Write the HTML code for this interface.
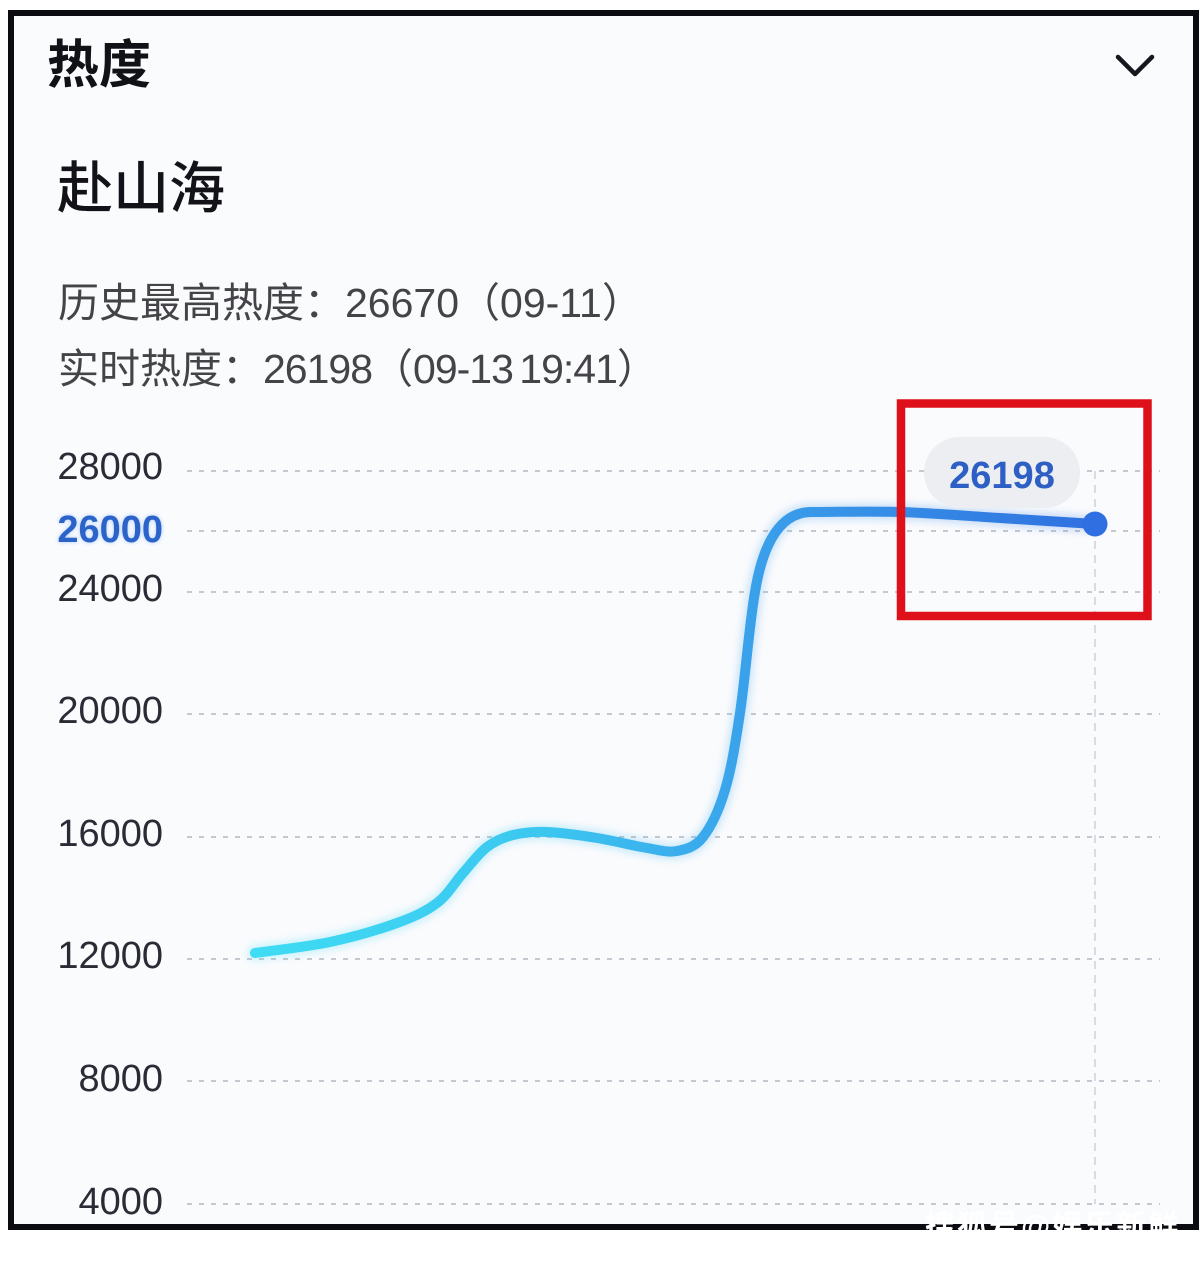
<!DOCTYPE html>
<html>
<head>
<meta charset="utf-8">
<style>
  html, body { margin:0; padding:0; }
  body { width:1204px; height:1246px; background:#ffffff; position:relative; overflow:hidden;
         font-family:"Liberation Sans","Noto Sans CJK SC",sans-serif; }
  .frame { position:absolute; left:8px; top:10px; width:1179px; height:1208px;
           border:6px solid #0b0b12; background:#fafbfd; }
  .abs { position:absolute; white-space:nowrap; }
  .title { left:47px; top:40px; font-size:52px; line-height:52px; font-weight:bold; color:#111118; }
  .name { left:57px; top:161px; font-size:56px; line-height:56px; font-weight:500; color:#121218; }
  .info { left:58px; font-size:41px; line-height:41px; color:#444448; }
  .yl { position:absolute; right:1041px; font-size:38px; line-height:38px; color:#2b2b36; text-align:right; }
  .yl.hl { color:#2c63c9; font-weight:bold; text-shadow:0 0 4px rgba(80,150,255,0.45); }
  .wm { position:absolute; left:925px; top:1212px; font-size:30px; line-height:30px; color:#ffffff; font-weight:bold;
        font-family:"Liberation Sans","Noto Sans CJK SC",sans-serif; letter-spacing:2px; }
  .nd { letter-spacing:-1px; }
</style>
</head>
<body>
<div class="frame"></div>

<div class="abs title">热度</div>
<div class="abs name">赴山海</div>
<div class="abs info" style="top:283px;">历史最高热度：26670（09-11）</div>
<div class="abs info" style="top:349px;">实时热度：<span class="nd">26198</span>（<span class="nd" style="word-spacing:-4px;">09-13 19:41</span>）</div>

<div class="yl" style="top:448px;">28000</div>
<div class="yl hl" style="top:511px;">26000</div>
<div class="yl" style="top:570px;">24000</div>
<div class="yl" style="top:692px;">20000</div>
<div class="yl" style="top:815px;">16000</div>
<div class="yl" style="top:937px;">12000</div>
<div class="yl" style="top:1060px;">8000</div>
<div class="yl" style="top:1183px;">4000</div>

<svg class="abs" style="left:0;top:0;" width="1204" height="1246" viewBox="0 0 1204 1246">
  <defs>
    <linearGradient id="lg" gradientUnits="userSpaceOnUse" x1="255" y1="0" x2="1095" y2="0">
      <stop offset="0" stop-color="#3fdcf4"/>
      <stop offset="0.35" stop-color="#3bc6f0"/>
      <stop offset="0.6" stop-color="#3a9fea"/>
      <stop offset="1" stop-color="#2f70e0"/>
    </linearGradient>
    <filter id="glow" x="-10%" y="-10%" width="120%" height="120%">
      <feGaussianBlur stdDeviation="4"/>
    </filter>
  </defs>

  <!-- chevron -->
  <polyline points="1118,57 1135,74 1152,57" fill="none" stroke="#16161f" stroke-width="4.5" stroke-linecap="round" stroke-linejoin="round"/>

  <!-- grid -->
  <g stroke="#b3b7bf" stroke-width="1.6" stroke-dasharray="5 7" fill="none">
    <line x1="187" y1="471" x2="1160" y2="471"/>
    <line x1="187" y1="531" x2="1160" y2="531"/>
    <line x1="187" y1="592" x2="1160" y2="592"/>
    <line x1="187" y1="714" x2="1160" y2="714"/>
    <line x1="187" y1="837" x2="1160" y2="837"/>
    <line x1="187" y1="959" x2="1160" y2="959"/>
    <line x1="187" y1="1081" x2="1160" y2="1081"/>
    <line x1="187" y1="1204" x2="1160" y2="1204"/>
  </g>
  <!-- vertical indicator -->
  <line x1="1095" y1="471" x2="1095" y2="1204" stroke="#c6cad1" stroke-width="1.3" stroke-dasharray="8 6"/>

  <!-- curve -->
  <path d="M255,953 C267.5,951.2 306.3,947 330,942 C353.7,937 379.2,929.5 397,923 C414.8,916.5 426,911.3 437,903 C448,894.7 454.7,882.3 463,873 C471.3,863.7 478.7,853.3 487,847 C495.3,840.7 503,837.5 513,835 C523,832.5 533,831.5 547,832 C561,832.5 580.3,835.3 597,838 C613.7,840.7 633.7,845.8 647,848 C660.3,850.2 667.7,852.8 677,851 C686.3,849.2 695,847.2 703,837 C711,826.8 718.8,810.7 725,790 C731.2,769.3 735,746 740,713 C745,680 749.5,622.3 755,592 C761,555 775,513 810,512 C840,512 868,511 900,512 C932,513 967.5,516 1000,518 C1032.5,520 1079,523 1095,524"
        fill="none" stroke="url(#lg)" stroke-width="16" stroke-linecap="round" opacity="0.25" filter="url(#glow)"/>
  <path d="M255,953 C267.5,951.2 306.3,947 330,942 C353.7,937 379.2,929.5 397,923 C414.8,916.5 426,911.3 437,903 C448,894.7 454.7,882.3 463,873 C471.3,863.7 478.7,853.3 487,847 C495.3,840.7 503,837.5 513,835 C523,832.5 533,831.5 547,832 C561,832.5 580.3,835.3 597,838 C613.7,840.7 633.7,845.8 647,848 C660.3,850.2 667.7,852.8 677,851 C686.3,849.2 695,847.2 703,837 C711,826.8 718.8,810.7 725,790 C731.2,769.3 735,746 740,713 C745,680 749.5,622.3 755,592 C761,555 775,513 810,512 C840,512 868,511 900,512 C932,513 967.5,516 1000,518 C1032.5,520 1079,523 1095,524"
        fill="none" stroke="url(#lg)" stroke-width="10" stroke-linecap="round"/>

  <!-- end dot -->
  <circle cx="1095" cy="524" r="12.5" fill="#2f6fe2"/>

  <!-- tooltip -->
  <rect x="924" y="437" width="156" height="71" rx="35.5" ry="35.5" fill="#eceef2"/>
  <text x="1002" y="488" text-anchor="middle" font-family="Liberation Sans, sans-serif" font-weight="bold" font-size="38" fill="#2d5fc4">26198</text>

  <!-- red highlight box -->
  <rect x="901" y="403.5" width="246.5" height="212.5" fill="none" stroke="#de111b" stroke-width="8.5"/>
</svg>

<div class="wm">搜狐号@娱乐新鲜事</div>
</body>
</html>
